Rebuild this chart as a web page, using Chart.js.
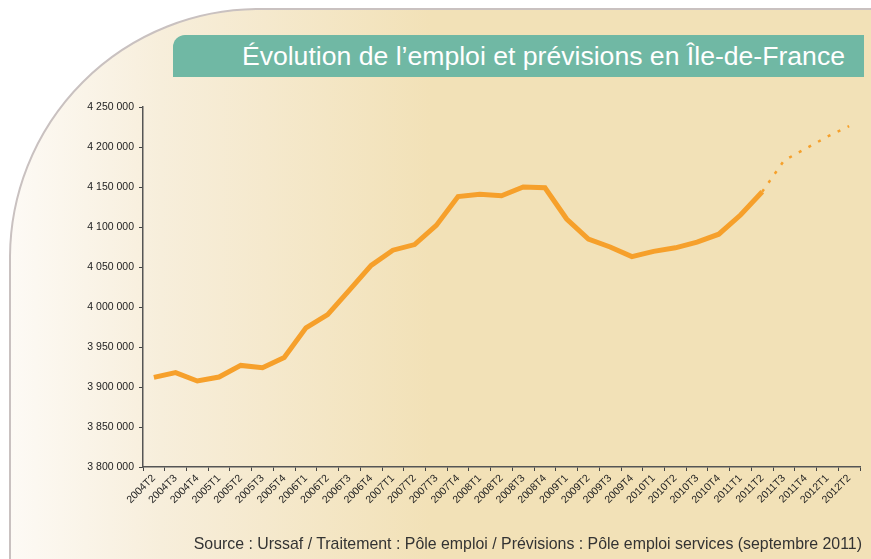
<!DOCTYPE html>
<html>
<head>
<meta charset="utf-8">
<script src="https://cdn.jsdelivr.net/npm/chart.js@4/dist/chart.umd.min.js"></script>
<style>
  html, body { margin: 0; padding: 0; background: #ffffff; }
  #wrap { position: relative; width: 871px; height: 559px; overflow: hidden; background: #ffffff; }
  #panel {
    position: absolute; left: 9px; top: 8px; width: 920px; height: 620px;
    border: 2px solid #c9c1c0; border-top-left-radius: 250px;
    background: linear-gradient(to right, #fdfaf5 0px, #f7eedb 150px, #f2e1b7 420px, #f2e1b7 100%);
  }
  #title {
    position: absolute; left: 173px; top: 35px; width: 672px; height: 42px;
    padding-right: 19px; background: #70b8a4; border-top-left-radius: 12px;
    color: #ffffff; font-family: "Liberation Sans", Arial, sans-serif; font-size: 26.6px;
    line-height: 43px; text-align: right; white-space: nowrap;
  }
  #source {
    position: absolute; right: 9px; top: 535px;
    color: #333333; font-family: "Liberation Sans", Arial, sans-serif; font-size: 15.9px;
    white-space: nowrap;
  }
  #c { position: absolute; left: 0; top: 0; }
</style>
</head>
<body>
<div id="wrap">
  <div id="panel"></div>
  <div id="title">Évolution de l’emploi et prévisions en Île-de-France</div>
  <canvas id="c" width="871" height="559"></canvas>
  <div id="source">Source : Urssaf / Traitement : Pôle emploi / Prévisions : Pôle emploi services (septembre 2011)</div>
</div>
<script>
const quarters = ['2004T2','2004T3','2004T4','2005T1','2005T2','2005T3','2005T4','2006T1','2006T2','2006T3','2006T4','2007T1','2007T2','2007T3','2007T4','2008T1','2008T2','2008T3','2008T4','2009T1','2009T2','2009T3','2009T4','2010T1','2010T2','2010T3','2010T4','2011T1','2011T2','2011T3','2011T4','2012T1','2012T2'];
const emploiObserve = [3912000,3918000,3907500,3912500,3927000,3924000,3937000,3974000,3990500,4021000,4052000,4071000,4078000,4102000,4138000,4141000,4139000,4150000,4149000,4110000,4085000,4075000,4063000,4069500,4074000,4081000,4091000,4115000,4144000];
const previsionQuarters = ['2011T2','2011T3','2011T4','2012T1','2012T2'];
const emploiPrevision = [4144000,4183000,4198000,4213000,4226000];
const yMin = 3800000, yMax = 4250000, yStep = 50000;

const observedData = quarters.map((q, i) => i < emploiObserve.length ? emploiObserve[i] : null);
const forecastData = quarters.map(q => {
  const k = previsionQuarters.indexOf(q);
  return k >= 0 ? emploiPrevision[k] : null;
});

const fmt = v => String(v).replace(/\B(?=(\d{3})+(?!\d))/g, ' ');
const FONT = '"Liberation Sans", Arial, sans-serif';
const ORANGE = '#f6a02b';

new Chart(document.getElementById('c'), {
  type: 'line',
  data: {
    labels: quarters,
    datasets: [
      { label: 'Emploi', data: observedData, borderColor: ORANGE, borderWidth: 5,
        pointRadius: 0, tension: 0, fill: false, borderCapStyle: 'butt', borderJoinStyle: 'miter' },
      { label: 'Prévisions', data: forecastData, borderColor: ORANGE, borderWidth: 2.5,
        borderDash: [3, 8], pointRadius: 0, tension: 0, fill: false, borderCapStyle: 'butt' }
    ]
  },
  options: {
    responsive: false,
    animation: false,
    events: [],
    layout: { padding: { top: 107, right: 11, left: 0, bottom: 0 } },
    plugins: { legend: { display: false }, tooltip: { enabled: false }, title: { display: false } },
    scales: {
      x: {
        offset: true,
        grid: { offset: true, drawOnChartArea: false, drawTicks: true, tickLength: 4, color: '#444444', lineWidth: 1 },
        border: { display: true, color: '#555555', width: 1.5 },
        ticks: { autoSkip: false, minRotation: 45, maxRotation: 45, padding: 1,
                 color: '#222222', font: { family: FONT, size: 10.5 } },
        afterFit: s => { s.height = 92; }
      },
      y: {
        min: yMin, max: yMax,
        grid: { drawOnChartArea: false, drawTicks: true, tickLength: 4, color: '#444444', lineWidth: 1 },
        border: { display: true, color: '#555555', width: 1.5 },
        ticks: { stepSize: yStep, padding: 5, color: '#222222', font: { family: FONT, size: 10.5 },
                 callback: v => fmt(v) },
        afterFit: s => { s.width = 143; }
      }
    }
  }
});
</script>
</body>
</html>
